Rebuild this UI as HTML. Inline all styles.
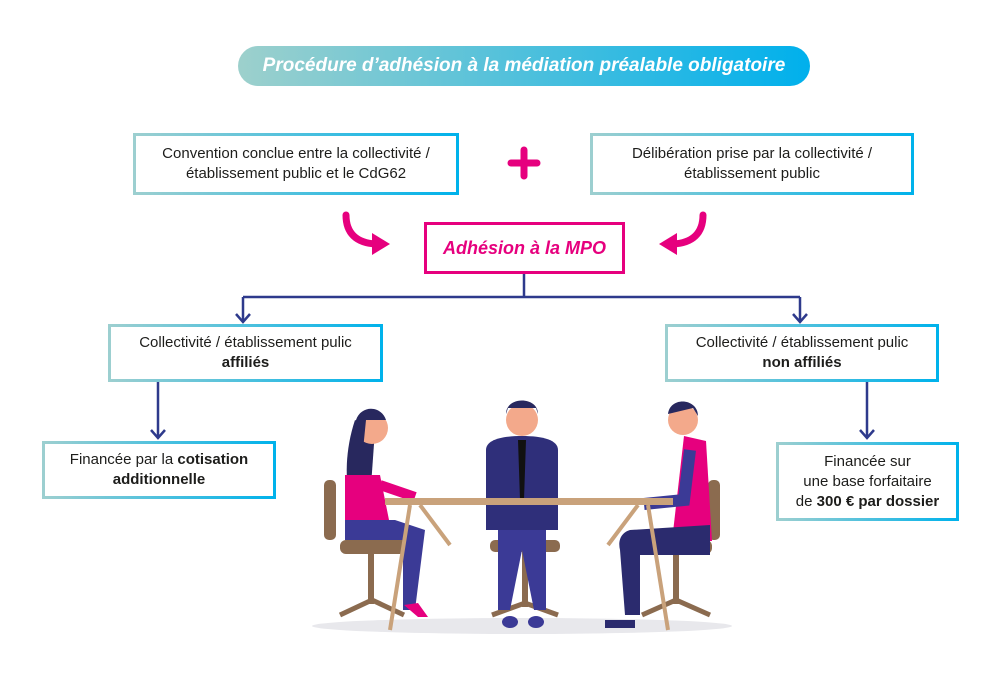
<!DOCTYPE html>
<html><head><meta charset="utf-8"><style>
body{margin:0;width:1000px;height:700px;background:#fff;position:relative;overflow:hidden;font-family:"Liberation Sans",sans-serif;color:#1d1d1b}
.box{position:absolute;box-sizing:border-box;border:3px solid;border-image:linear-gradient(90deg,#9ccfd0,#00b2eb) 1;background:#fff;display:flex;align-items:center;justify-content:center;text-align:center;font-size:15px;line-height:20px}
.pill{position:absolute;left:238px;top:46px;width:572px;height:40px;border-radius:20px;background:linear-gradient(90deg,#9dd0cc,#00b0ec);color:#fff;font-style:italic;font-weight:bold;font-size:19px;display:flex;align-items:center;justify-content:center}
b{font-weight:bold}
</style></head><body>
<div class="pill"><div>Procédure d’adhésion à la médiation préalable obligatoire</div></div>
<svg width="1000" height="700" style="position:absolute;left:0;top:0">
<g stroke="#2e3a8c" stroke-width="2.5" fill="none">
<path d="M524 273V297M243 297H800M243 297V322M800 297V322M158 381V438M867 381V438"/>
<path d="M236 314l7 8 7-8M793 314l7 8 7-8M151 430l7 8 7-8M860 430l7 8 7-8"/>
</g>
<g stroke="#e6007e" stroke-width="7" fill="none" stroke-linecap="round">
<path d="M346 215c0 18 10 28 30 29"/><path d="M703 215c0 18-10 28-30 29"/>
<path d="M524 150v26M511 163h26"/>
</g>
<path d="M372 233l18 11-18 11z" fill="#e6007e"/><path d="M677 233l-18 11 18 11z" fill="#e6007e"/>
<ellipse cx="522" cy="626" rx="210" ry="8" fill="#e8e8ec"/>
<g fill="#8b6b4f">
<rect x="324" y="480" width="12" height="60" rx="5"/><rect x="340" y="540" width="70" height="14" rx="6"/><rect x="368" y="554" width="6" height="50"/>
<path d="M340 615l32-15 32 15" stroke="#8b6b4f" stroke-width="5" fill="none"/>
<rect x="490" y="540" width="70" height="12" rx="5"/><rect x="522" y="552" width="6" height="55"/>
<path d="M492 615l33-12 33 12" stroke="#8b6b4f" stroke-width="5" fill="none"/>
<rect x="708" y="480" width="12" height="60" rx="5"/><rect x="640" y="540" width="72" height="14" rx="6"/><rect x="673" y="554" width="6" height="50"/>
<path d="M642 615l34-15 34 15" stroke="#8b6b4f" stroke-width="5" fill="none"/>
</g>
<path d="M355 420c-10 30-10 60-5 80l20 0 5-70z" fill="#28285e"/>
<circle cx="372" cy="428" r="16" fill="#f3a98b"/>
<path d="M356 420c5-15 25-15 30 0l-20 0-8 80h-10c-2-30 3-60 8-80z" fill="#28285e"/>
<path d="M345 475h35l10 50h-45z" fill="#e6007e"/>
<path d="M380 485l35 12" stroke="#e6007e" stroke-width="10"/>
<path d="M345 520h50l30 10-10 80h-12l0-70h-58z" fill="#3b3a96"/>
<path d="M404 605l14 12h10l-10-14z" fill="#e6007e"/>
<circle cx="522" cy="420" r="16" fill="#f3a98b"/>
<path d="M506 414c0-18 32-18 32 0l-2-6h-28z" fill="#28285e"/>
<path d="M486 450c0-10 15-14 36-14s36 4 36 14v80h-72z" fill="#2f2f7a"/>
<path d="M518 440h8l-2 60h-4z" fill="#111"/>
<path d="M498 530h48v80h-12l-12-60-12 60h-12z" fill="#3b3a96"/>
<ellipse cx="510" cy="622" rx="8" ry="6" fill="#3b3a96"/><ellipse cx="536" cy="622" rx="8" ry="6" fill="#3b3a96"/>
<circle cx="683" cy="420" r="15" fill="#f3a98b"/>
<path d="M668 414c2-18 30-16 30 2l-5-8z" fill="#28285e"/>
<path d="M684 436l22 5 6 100h-40z" fill="#e6007e"/>
<path d="M690 450l-6 50-40 4" stroke="#3b3a96" stroke-width="12" fill="none"/>
<path d="M710 525l-80 5c-10 3-12 12-10 20l5 65h15l0-60h70z" fill="#2b2b6e"/>
<path d="M605 620h30v8h-30z" fill="#2b2b6e"/>
<rect x="385" y="498" width="288" height="7" fill="#c9a27b"/>
<path d="M410 505l-20 125M648 505l20 125M420 505l30 40M638 505l-30 40" stroke="#c9a27b" stroke-width="4"/>
</svg>
<div class="box" style="left:133px;top:133px;width:326px;height:62px"><div>Convention conclue entre la collectivité /<br>établissement public et le CdG62</div></div>
<div class="box" style="left:590px;top:133px;width:324px;height:62px"><div>Délibération prise par la collectivité /<br>établissement public</div></div>
<div class="box" style="left:424px;top:222px;width:201px;height:52px;border:3px solid #e6007e;border-image:none;color:#e6007e;font-weight:bold;font-style:italic;font-size:18px"><div>Adhésion à la MPO</div></div>
<div class="box" style="left:108px;top:324px;width:275px;height:58px"><div>Collectivité / établissement pulic<br><b>affiliés</b></div></div>
<div class="box" style="left:665px;top:324px;width:274px;height:58px"><div>Collectivité / établissement pulic<br><b>non affiliés</b></div></div>
<div class="box" style="left:42px;top:441px;width:234px;height:58px"><div>Financée par la <b>cotisation</b><br><b>additionnelle</b></div></div>
<div class="box" style="left:776px;top:442px;width:183px;height:79px"><div>Financée sur<br>une base forfaitaire<br>de <b>300 € par dossier</b></div></div>
</body></html>
